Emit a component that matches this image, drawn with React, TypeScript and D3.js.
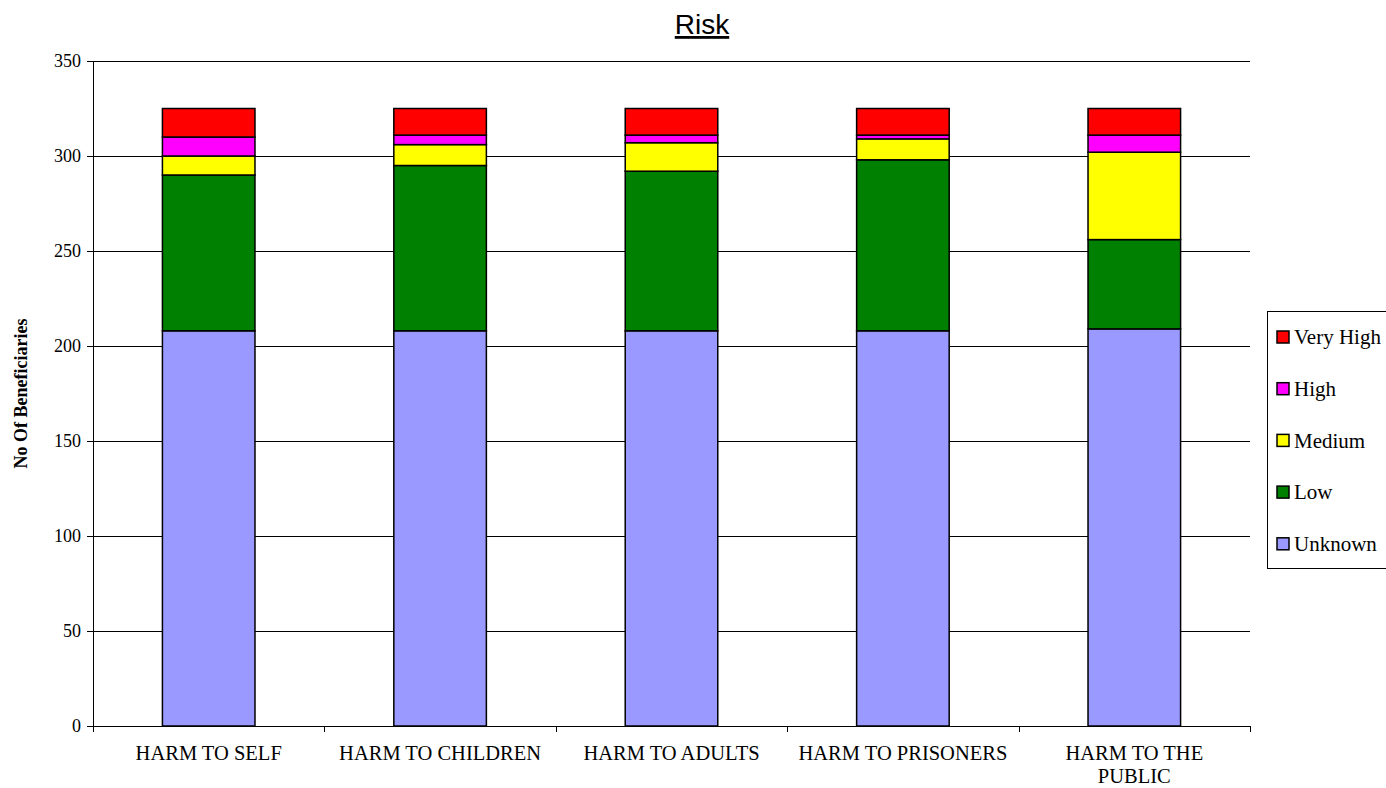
import React from "react";
import * as d3 from "d3";

const categories = ["HARM TO SELF", "HARM TO CHILDREN", "HARM TO ADULTS", "HARM TO PRISONERS", "HARM TO THE PUBLIC"];
const categoryLines = [["HARM TO SELF"], ["HARM TO CHILDREN"], ["HARM TO ADULTS"], ["HARM TO PRISONERS"], ["HARM TO THE", "PUBLIC"]];
const seriesNames = ["Unknown", "Low", "Medium", "High", "Very High"];
const seriesColors = ["#9999FF", "#008000", "#FFFF00", "#FF00FF", "#FF0000"];
const unknownVals = [208, 208, 208, 208, 209];
const lowVals = [82, 87, 84, 90, 47];
const mediumVals = [10, 11, 15, 11, 46];
const highVals = [10, 5, 4, 2, 9];
const veryHighVals = [15, 14, 14, 14, 14];
const yTicks = [0, 50, 100, 150, 200, 250, 300, 350];

const W = 1386, H = 788;
const plot = { left: 93, right: 1250, top: 61, bottom: 726 };

export default function App() {
  const seriesVals = [unknownVals, lowVals, mediumVals, highVals, veryHighVals];
  const rows = categories.map((c, i) => {
    const r: any = { cat: c };
    seriesNames.forEach((s, j) => (r[s] = seriesVals[j][i]));
    return r;
  });
  const stack = d3.stack().keys(seriesNames)(rows);
  const x = d3.scaleBand().domain(categories).range([plot.left, plot.right]).paddingInner(0).paddingOuter(0);
  const y = d3.scaleLinear().domain([0, 350]).range([plot.bottom, plot.top]);
  const bw = x.bandwidth() * 0.4;
  const serif = "'Liberation Serif', 'Times New Roman', serif";
  const bounds = [...categories.map((c) => x(c)!), plot.right];

  return (
    <svg width={W} height={H} style={{ position: "absolute", left: 0, top: 0, background: "#fff" }}>
      <rect x={0} y={0} width={W} height={H} fill="#fff" />
      {yTicks.map((t) => (
        <line key={t} x1={plot.left - 6} x2={plot.right} y1={Math.round(y(t)) + 0.5} y2={Math.round(y(t)) + 0.5} stroke="#000" strokeWidth={1} />
      ))}
      {stack.map((layer, j) =>
        layer.map((d, i) => (
          <rect
            key={j + "-" + i}
            x={x(categories[i])! + (x.bandwidth() - bw) / 2}
            y={y(d[1])}
            width={bw}
            height={y(d[0]) - y(d[1])}
            fill={seriesColors[j]}
            stroke="#000"
            strokeWidth={1.5}
          />
        ))
      )}
      <line x1={plot.left + 0.5} x2={plot.left + 0.5} y1={plot.top} y2={plot.bottom + 6} stroke="#000" />
      <line x1={plot.left} x2={plot.right} y1={plot.bottom + 0.5} y2={plot.bottom + 0.5} stroke="#000" />
      {bounds.map((b, i) => (
        <line key={i} x1={Math.round(b) + 0.5} x2={Math.round(b) + 0.5} y1={plot.bottom} y2={plot.bottom + 6} stroke="#000" />
      ))}
      {yTicks.map((t) => (
        <text key={t} x={81} y={y(t)} dy="0.35em" textAnchor="end" fontFamily={serif} fontSize={18} fill="#000">
          {t}
        </text>
      ))}
      {categoryLines.map((lines, i) => (
        <text key={i} x={x(categories[i])! + x.bandwidth() / 2} y={760} textAnchor="middle" fontFamily={serif} fontSize={20.5} fill="#000">
          {lines.map((l, k) => (
            <tspan key={k} x={x(categories[i])! + x.bandwidth() / 2} dy={k === 0 ? 0 : 23}>
              {l}
            </tspan>
          ))}
        </text>
      ))}
      <text transform={`translate(27, ${(plot.top + plot.bottom) / 2}) rotate(-90)`} textAnchor="middle" fontFamily={serif} fontWeight="bold" fontSize={18} fill="#000">
        No Of Beneficiaries
      </text>
      <text x={702} y={34} textAnchor="middle" fontFamily="'Liberation Sans', Arial, sans-serif" fontSize={28} textDecoration="underline" fill="#000">
        Risk
      </text>
      <rect x={1267.5} y={311.5} width={140} height={257} fill="#fff" stroke="#000" />
      {[...seriesNames].reverse().map((s, k) => {
        const j = seriesNames.length - 1 - k;
        const cy = 337 + k * 51.7;
        return (
          <g key={s}>
            <rect x={1277} y={cy - 6} width={12} height={12} fill={seriesColors[j]} stroke="#000" strokeWidth={1.5} />
            <text x={1294} y={cy} dy="0.35em" fontFamily={serif} fontSize={21} fill="#000">
              {s}
            </text>
          </g>
        );
      })}
    </svg>
  );
}
